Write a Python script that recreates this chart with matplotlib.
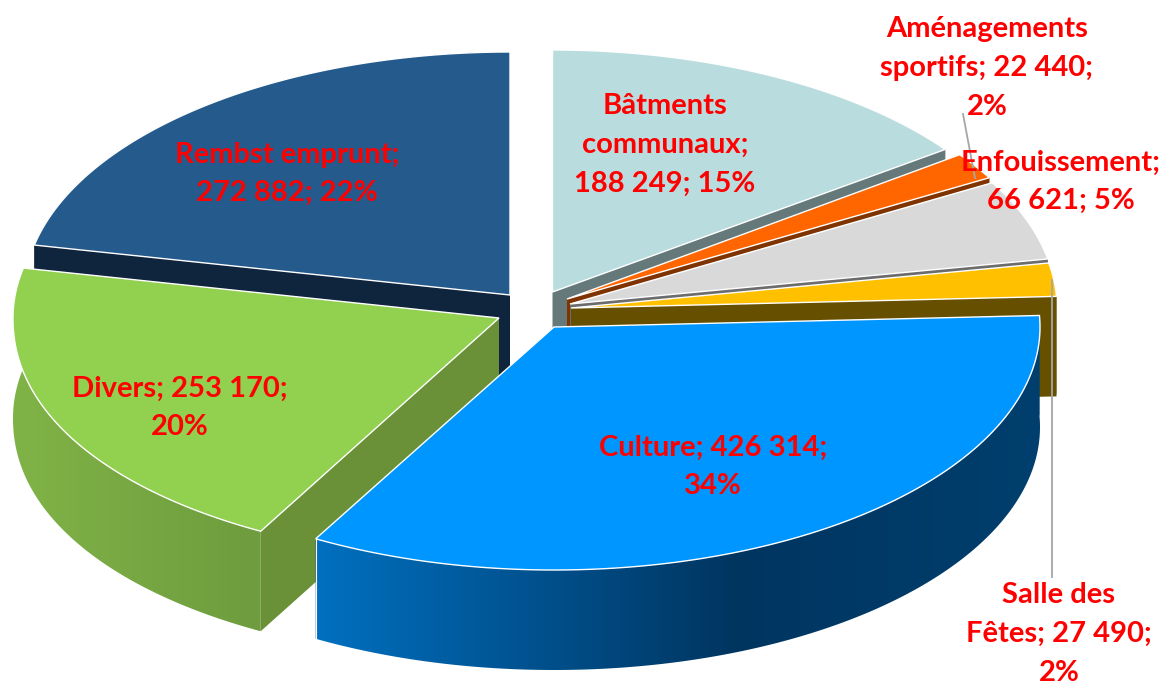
import matplotlib
matplotlib.use('Agg')
import matplotlib.pyplot as plt
from matplotlib.colors import LinearSegmentedColormap
from matplotlib.patches import Polygon
import numpy as np

# data
categories = ['Bâtments communaux', 'Aménagements sportifs', 'Enfouissement',
              'Salle des Fêtes', 'Culture', 'Divers', 'Rembst emprunt']
values = [188249, 22440, 66621, 27490, 426314, 253170, 272882]
percents = [15, 2, 5, 2, 34, 20, 22]

# one label per slice, with the line breaks of the picture
label_formats = ['Bâtments\ncommunaux;\n{v}; {p}%',
                 'Aménagements\nsportifs; {v};\n{p}%',
                 'Enfouissement;\n{v}; {p}%',
                 'Salle des\nFêtes; {v};\n{p}%',
                 'Culture; {v};\n{p}%',
                 'Divers; {v};\n{p}%',
                 'Rembst emprunt;\n{v}; {p}%']
label_pos = [(665, 145), (987, 68), (1061, 182), (1059, 634), (713, 467), (180, 408), (287, 174)]

# slice apex in pixels (each slice is pulled out of the pie)
apex = [(552.5, 292), (567, 299), (570, 304), (571, 308), (554, 327), (499, 318), (510, 295)]
radius_y = [242, 245, 245, 245, 243, 243, 243]
# Divers bulges a little more than an ellipse on its front side
front_power = [1, 1, 1, 1, 1, 0.95, 1]
top_colors = ['#B9DCDE', '#FF6600', '#D9D9D9', '#FFC000', '#0096FF', '#92D050', '#255A8C']
cut_colors = ['#66797A', '#7F3300', '#6C6C6C', '#665000', '#004B80', '#6A9038', '#0F253E']
wall_grad = [None, None, None, None,
             [(0, '#0070C0'), (0.58, '#003560'), (1, '#003F6E')],
             [(0, '#80B347'), (1, '#6E9C3E')], None]

RX = 486
DEPTH = 100

fig = plt.figure(figsize=(11.68, 6.84), dpi=100)
ax = fig.add_axes([0, 0, 1, 1])

fractions = np.array(values) / sum(values)
ends = np.cumsum(fractions) * 2 * np.pi
starts = ends - fractions * 2 * np.pi


def arc(i, n=160):
    t = np.linspace(starts[i], ends[i], n)
    c = np.cos(t)
    c = np.where(c < 0, -np.abs(c) ** front_power[i], c)
    return apex[i][0] + RX * np.sin(t), apex[i][1] - radius_y[i] * c


# back slices first, culture last
draw_order = [6, 0, 1, 2, 3, 5, 4]
for layer, i in enumerate(draw_order):
    x, y = arc(i)
    cx, cy = apex[i]
    z = 2 + layer

    # cut faces
    for k in (0, -1):
        ax.fill([cx, x[k], x[k], cx], [cy, y[k], y[k] + DEPTH, cy + DEPTH],
                color=cut_colors[i], lw=0, zorder=z)

    # outer wall
    wall_x = np.r_[x, x[::-1]]
    wall_y = np.r_[y, y[::-1] + DEPTH]
    if wall_grad[i] is None:
        ax.fill(wall_x, wall_y, color=cut_colors[i], lw=0, zorder=z)
    else:
        cmap = LinearSegmentedColormap.from_list('wall', wall_grad[i])
        im = ax.imshow(np.linspace(0, 1, 256).reshape(1, -1), cmap=cmap, aspect='auto',
                       extent=[x.min(), x.max(), wall_y.max(), wall_y.min()], zorder=z)
        clip = Polygon(np.c_[wall_x, wall_y], transform=ax.transData, fc='none', ec='none')
        ax.add_patch(clip)
        im.set_clip_path(clip)
        # white line at the front corner of the slice
        ax.plot([x[-1], x[-1]], [y[-1], y[-1] + DEPTH], color='white', lw=0.8, zorder=z)

    # top of the slice
    ax.fill(np.r_[cx, x], np.r_[cy, y], facecolor=top_colors[i], edgecolor='white',
            lw=1.0, zorder=z)

# leader lines
ax.plot([963, 975], [114, 178], color='#A6A6A6', lw=1.3, zorder=20)
ax.plot([1052, 1052], [280, 577], color='#A6A6A6', lw=1.3, zorder=20)

for i in range(len(values)):
    text = label_formats[i].format(v=f'{values[i]:,}'.replace(',', ' '), p=percents[i])
    ax.text(label_pos[i][0], label_pos[i][1], text, color='#FF0000', fontsize=21,
            fontfamily='Lato', fontweight='bold', ha='center', va='center',
            linespacing=1.6, zorder=30)

ax.set_xlim(0, 1168)
ax.set_ylim(684, 0)
ax.axis('off')
plt.savefig('out.png', dpi=100)
